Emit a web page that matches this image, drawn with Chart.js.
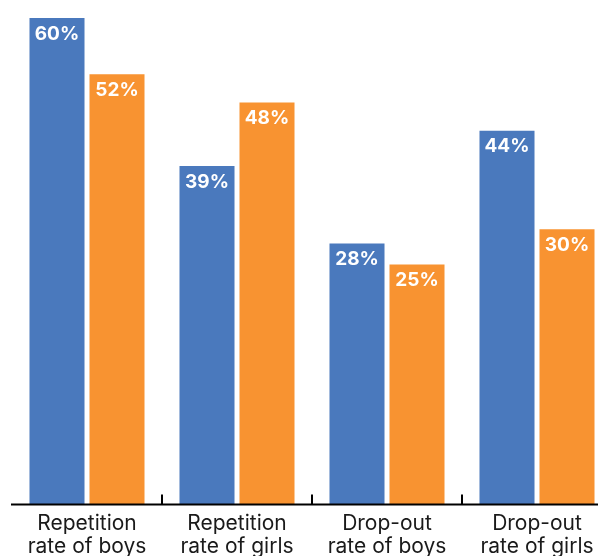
<!DOCTYPE html>
<html>
<head>
<meta charset="utf-8">
<script src="https://cdn.jsdelivr.net/npm/chart.js@4"></script>
<style>
html,body{margin:0;padding:0;overflow:hidden;background:#fff;}
#wrap{position:relative;width:613px;height:556px;}
</style>
</head>
<body>
<div id="wrap"><canvas id="c"></canvas></div>
<script>
const categories = [["Repetition","rate of boys"],["Repetition","rate of girls"],["Drop-out","rate of boys"],["Drop-out","rate of girls"]];
const seriesA = [60, 39, 28, 44];
const seriesB = [52, 48, 25, 30];
const axisMin = -9;
const axisMax = 60;

const FONT = "Inter, 'Noto Sans', sans-serif";

const labelPlugin = {
  id: 'barLabels',
  afterDatasetsDraw(chart) {
    const ctx = chart.ctx;
    ctx.save();
    ctx.fillStyle = '#ffffff';
    ctx.font = "bold 19px " + FONT;
    ctx.textAlign = 'center';
    ctx.textBaseline = 'middle';
    chart.data.datasets.forEach((ds, di) => {
      chart.getDatasetMeta(di).data.forEach((bar, i) => {
        ctx.fillText(ds.data[i] + '%', bar.x, bar.y + 16);
      });
    });
    ctx.restore();
  }
};

const axisPlugin = {
  id: 'axisLine',
  afterDraw(chart) {
    const ctx = chart.ctx;
    const x = chart.scales.x;
    const y0 = chart.chartArea.bottom + 0.5;
    ctx.save();
    ctx.strokeStyle = '#000';
    ctx.lineWidth = 2;
    ctx.beginPath();
    ctx.moveTo(11, y0);
    ctx.lineTo(chart.width, y0);
    ctx.stroke();
    const n = categories.length;
    for (let i = 0; i < n - 1; i++) {
      const bx = (x.getPixelForValue(i) + x.getPixelForValue(i + 1)) / 2;
      ctx.beginPath();
      ctx.moveTo(Math.round(bx), y0);
      ctx.lineTo(Math.round(bx), y0 - 10);
      ctx.stroke();
    }
    ctx.restore();
  }
};

new Chart(document.getElementById('c'), {
  type: 'bar',
  data: {
    labels: categories,
    datasets: [
      { data: seriesA, backgroundColor: '#4a79bd', base: axisMin, barPercentage: 0.917, categoryPercentage: 0.8 },
      { data: seriesB, backgroundColor: '#f89331', base: axisMin, barPercentage: 0.917, categoryPercentage: 0.8 }
    ]
  },
  options: {
    responsive: true,
    maintainAspectRatio: false,
    animation: false,
    layout: { padding: { left: 12, right: 1, top: 18, bottom: 0 } },
    plugins: { legend: { display: false }, tooltip: { enabled: false } },
    scales: {
      y: { display: false, min: axisMin, max: axisMax },
      x: {
        grid: { display: false, drawTicks: false },
        border: { display: false },
        afterFit(scale) { scale.height = 52; },
        ticks: { color: '#1a1a1a', font: { family: FONT, size: 21, lineHeight: 1.1 }, padding: 8, maxRotation: 0, autoSkip: false }
      }
    }
  },
  plugins: [labelPlugin, axisPlugin]
});
</script>
</body>
</html>
